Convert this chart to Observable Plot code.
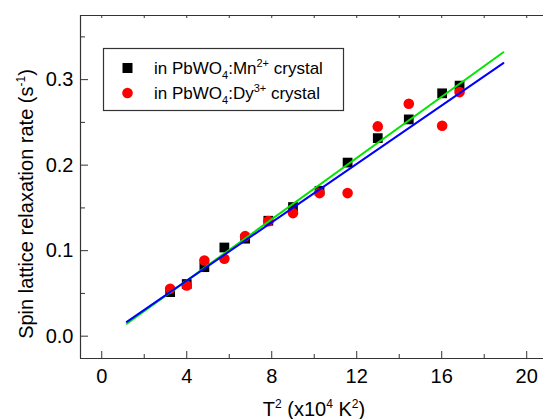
<!DOCTYPE html>
<html>
<head>
<meta charset="utf-8">
<script src="https://cdn.jsdelivr.net/npm/d3@7"></script>
<script src="https://cdn.jsdelivr.net/npm/@observablehq/plot@0.6"></script>
<style>
  html, body { margin: 0; padding: 0; background: #fff; }
  #chart { width: 543px; height: 419px; }
</style>
</head>
<body>
<div id="chart"></div>
<script>
// ---- data ----
const tSquared = [3.22, 4.0, 4.83, 5.77, 6.75, 7.84, 9.0, 10.25, 11.57, 12.99, 14.45, 16.02, 16.84];
const rateMn   = [0.0515, 0.061, 0.0807, 0.1037, 0.114, 0.135, 0.151, 0.170, 0.203, 0.2316, 0.2535, 0.284, 0.293];
const rateDy   = [0.0554, 0.0593, 0.0885, 0.0905, 0.117, 0.1345, 0.1439, 0.1673, 0.1673, 0.2453, 0.2718, 0.2461, 0.2854];
const fitX     = [1.18, 18.9];
const fitGreen = [0.0145, 0.332];
const fitBlue  = [0.0168, 0.3193];
const xMajor = [0, 4, 8, 12, 16, 20];
const xMinor = [2, 6, 10, 14, 18];
const yMajor = [0.0, 0.1, 0.2, 0.3];
const yMinor = [0.05, 0.15, 0.25, 0.35];
const xDomain = [-1, 20.79];
const yDomain = [-0.0261, 0.375];
const legendLabels = [
  ["in PbWO", "4", ":Mn", "2+", " crystal"],
  ["in PbWO", "4", ":Dy", "3+", " crystal"]
];

const mn = tSquared.map((x, i) => ({x, y: rateMn[i]}));
const dy = tSquared.map((x, i) => ({x, y: rateDy[i]}));
const green = fitX.map((x, i) => ({x, y: fitGreen[i]}));
const blue = fitX.map((x, i) => ({x, y: fitBlue[i]}));

const axisColor = "#333";
const font = "'Liberation Sans', Arial, sans-serif";

const svg = Plot.plot({
  width: 543,
  height: 419,
  marginLeft: 80,
  marginRight: 0,
  marginTop: 15,
  marginBottom: 61,
  style: {fontSize: "20px", fontFamily: font, color: "#000", background: "#fff"},
  x: {domain: xDomain, label: null},
  y: {domain: yDomain, label: null},
  marks: [
    // frame lines
    Plot.ruleX([xDomain[0]], {stroke: axisColor, strokeWidth: 1.2}),
    Plot.ruleY([yDomain[0]], {stroke: axisColor, strokeWidth: 1.2}),
    Plot.ruleY([yDomain[1]], {stroke: axisColor, strokeWidth: 1.2}),
    // tick labels
    Plot.axisX(xMajor, {tickSize: 0, tickPadding: 10, fontSize: 20, fill: "#000", label: null, tickFormat: d3.format("d")}),
    Plot.axisY(yMajor, {tickSize: 0, tickPadding: 7, fontSize: 20, fill: "#000", label: null, tickFormat: d3.format(".1f")}),
    // inward ticks
    Plot.axisX(xMajor, {tickSize: 7, dy: -7, stroke: axisColor, tickFormat: () => "", label: null}),
    Plot.axisX(xMinor, {tickSize: 4, dy: -4, stroke: axisColor, tickFormat: () => "", label: null}),
    Plot.axisY(yMajor, {tickSize: 8, dx: 8, stroke: axisColor, tickFormat: () => "", label: null}),
    Plot.axisY(yMinor, {tickSize: 5, dx: 5, stroke: axisColor, tickFormat: () => "", label: null}),
    Plot.axisX([...xMajor, ...xMinor], {anchor: "top", tickSize: 2, dy: 2, stroke: axisColor, tickFormat: () => "", label: null}),
    // data
    Plot.dot(mn, {x: "x", y: "y", symbol: "square", fill: "#000", r: 5.5}),
    Plot.dot(dy, {x: "x", y: "y", symbol: "circle", fill: "#ff0000", r: 5.3}),
    Plot.line(green, {x: "x", y: "y", stroke: "#00e600", strokeWidth: 2}),
    Plot.line(blue, {x: "x", y: "y", stroke: "#0000ff", strokeWidth: 2})
  ]
});

const s = d3.select(svg);

// axis titles with super/subscripts
const xt = s.append("text")
  .attr("x", 314).attr("y", 416)
  .attr("text-anchor", "middle")
  .attr("font-family", font).attr("font-size", 20).attr("fill", "#000");
xt.append("tspan").text("T");
xt.append("tspan").attr("dy", -8).attr("font-size", 12).text("2");
xt.append("tspan").attr("dy", 8).text(" (x10");
xt.append("tspan").attr("dy", -8).attr("font-size", 12).text("4");
xt.append("tspan").attr("dy", 8).text(" K");
xt.append("tspan").attr("dy", -8).attr("font-size", 12).text("2");
xt.append("tspan").attr("dy", 8).text(")");

const yt = s.append("text")
  .attr("transform", "translate(32.5,204) rotate(-90)")
  .attr("text-anchor", "middle")
  .attr("font-family", font).attr("font-size", 20).attr("fill", "#000");
yt.append("tspan").text("Spin lattice relaxation rate (s");
yt.append("tspan").attr("dy", -8).attr("font-size", 12).text("-1");
yt.append("tspan").attr("dy", 8).text(")");

// legend
const lg = s.append("g");
lg.append("rect").attr("x", 103.5).attr("y", 48.5).attr("width", 240).attr("height", 62)
  .attr("fill", "#fff").attr("stroke", axisColor).attr("stroke-width", 1.2);
lg.append("rect").attr("x", 122.5).attr("y", 63).attr("width", 10).attr("height", 10).attr("fill", "#000");
lg.append("circle").attr("cx", 127.5).attr("cy", 93).attr("r", 5.3).attr("fill", "#ff0000");
[73.5, 99].forEach((baseY, i) => {
  const [a, sub, b, sup, c] = legendLabels[i];
  const t = lg.append("text").attr("x", 154).attr("y", baseY)
    .attr("text-anchor", "start")
    .attr("font-family", font).attr("font-size", 17).attr("fill", "#000");
  t.append("tspan").text(a);
  t.append("tspan").attr("dy", 5).attr("font-size", 11).text(sub);
  t.append("tspan").attr("dy", -5).text(b);
  t.append("tspan").attr("dy", -7).attr("font-size", 11).text(sup);
  t.append("tspan").attr("dy", 7).text(c);
});

document.getElementById("chart").appendChild(svg);
</script>
</body>
</html>
